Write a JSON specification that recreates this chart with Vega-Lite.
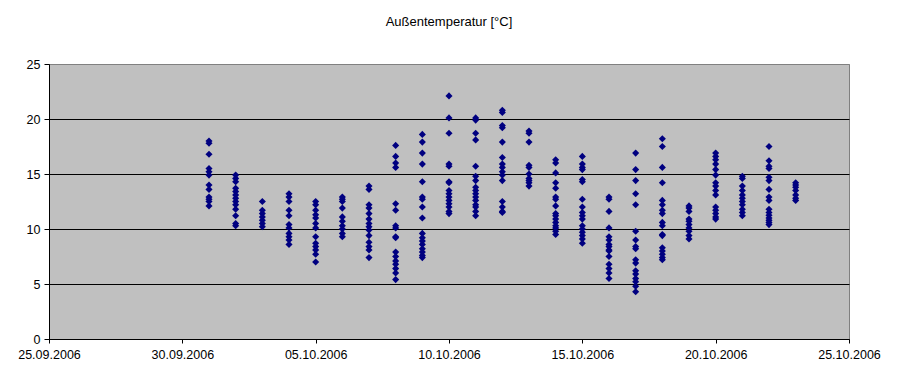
{
  "$schema": "https://vega.github.io/schema/vega-lite/v6.json",
  "width": 800,
  "height": 275,
  "autosize": {"type": "none"},
  "padding": {"left": 49, "top": 64, "right": 49, "bottom": 45},
  "background": "white",
  "title": {"text": "Außentemperatur [°C]", "font": "Liberation Sans", "fontSize": 13, "fontWeight": "normal", "color": "black", "anchor": "middle", "offset": 29},
  "datasets": {
    "temps": [
      {"d": "2006-10-01", "t": 18.0}, {"d": "2006-10-01", "t": 17.8}, {"d": "2006-10-01", "t": 16.8}, {"d": "2006-10-01", "t": 15.5}, {"d": "2006-10-01", "t": 15.2}, {"d": "2006-10-01", "t": 14.9}, {"d": "2006-10-01", "t": 14.0}, {"d": "2006-10-01", "t": 13.6}, {"d": "2006-10-01", "t": 12.9}, {"d": "2006-10-01", "t": 12.7}, {"d": "2006-10-01", "t": 12.5}, {"d": "2006-10-01", "t": 12.1},
      {"d": "2006-10-02", "t": 14.9}, {"d": "2006-10-02", "t": 14.6}, {"d": "2006-10-02", "t": 14.3}, {"d": "2006-10-02", "t": 13.7}, {"d": "2006-10-02", "t": 13.4}, {"d": "2006-10-02", "t": 13.1}, {"d": "2006-10-02", "t": 12.8}, {"d": "2006-10-02", "t": 12.5}, {"d": "2006-10-02", "t": 12.2}, {"d": "2006-10-02", "t": 11.8}, {"d": "2006-10-02", "t": 11.2}, {"d": "2006-10-02", "t": 10.5}, {"d": "2006-10-02", "t": 10.3},
      {"d": "2006-10-03", "t": 12.5}, {"d": "2006-10-03", "t": 11.7}, {"d": "2006-10-03", "t": 11.4}, {"d": "2006-10-03", "t": 11.1}, {"d": "2006-10-03", "t": 10.8}, {"d": "2006-10-03", "t": 10.5}, {"d": "2006-10-03", "t": 10.2},
      {"d": "2006-10-04", "t": 13.2}, {"d": "2006-10-04", "t": 12.9}, {"d": "2006-10-04", "t": 12.5}, {"d": "2006-10-04", "t": 11.7}, {"d": "2006-10-04", "t": 11.2}, {"d": "2006-10-04", "t": 10.4}, {"d": "2006-10-04", "t": 10.1}, {"d": "2006-10-04", "t": 9.6}, {"d": "2006-10-04", "t": 9.3}, {"d": "2006-10-04", "t": 9.0}, {"d": "2006-10-04", "t": 8.6},
      {"d": "2006-10-05", "t": 12.5}, {"d": "2006-10-05", "t": 12.2}, {"d": "2006-10-05", "t": 11.7}, {"d": "2006-10-05", "t": 11.3}, {"d": "2006-10-05", "t": 11.0}, {"d": "2006-10-05", "t": 10.5}, {"d": "2006-10-05", "t": 10.1}, {"d": "2006-10-05", "t": 9.3}, {"d": "2006-10-05", "t": 8.7}, {"d": "2006-10-05", "t": 8.4}, {"d": "2006-10-05", "t": 8.1}, {"d": "2006-10-05", "t": 7.7}, {"d": "2006-10-05", "t": 7.0},
      {"d": "2006-10-06", "t": 12.9}, {"d": "2006-10-06", "t": 12.7}, {"d": "2006-10-06", "t": 12.5}, {"d": "2006-10-06", "t": 11.9}, {"d": "2006-10-06", "t": 11.1}, {"d": "2006-10-06", "t": 10.7}, {"d": "2006-10-06", "t": 10.3}, {"d": "2006-10-06", "t": 10.0}, {"d": "2006-10-06", "t": 9.6}, {"d": "2006-10-06", "t": 9.3},
      {"d": "2006-10-07", "t": 13.9}, {"d": "2006-10-07", "t": 13.6}, {"d": "2006-10-07", "t": 12.2}, {"d": "2006-10-07", "t": 11.9}, {"d": "2006-10-07", "t": 11.4}, {"d": "2006-10-07", "t": 10.9}, {"d": "2006-10-07", "t": 10.5}, {"d": "2006-10-07", "t": 10.2}, {"d": "2006-10-07", "t": 9.9}, {"d": "2006-10-07", "t": 9.4}, {"d": "2006-10-07", "t": 8.8}, {"d": "2006-10-07", "t": 8.4}, {"d": "2006-10-07", "t": 8.1}, {"d": "2006-10-07", "t": 7.4},
      {"d": "2006-10-08", "t": 17.6}, {"d": "2006-10-08", "t": 16.6}, {"d": "2006-10-08", "t": 16.0}, {"d": "2006-10-08", "t": 15.6}, {"d": "2006-10-08", "t": 12.3}, {"d": "2006-10-08", "t": 11.7}, {"d": "2006-10-08", "t": 10.3}, {"d": "2006-10-08", "t": 10.1}, {"d": "2006-10-08", "t": 9.3}, {"d": "2006-10-08", "t": 9.2}, {"d": "2006-10-08", "t": 7.9}, {"d": "2006-10-08", "t": 7.5}, {"d": "2006-10-08", "t": 7.1}, {"d": "2006-10-08", "t": 6.8}, {"d": "2006-10-08", "t": 6.4}, {"d": "2006-10-08", "t": 6.0}, {"d": "2006-10-08", "t": 5.4},
      {"d": "2006-10-09", "t": 18.6}, {"d": "2006-10-09", "t": 17.9}, {"d": "2006-10-09", "t": 16.9}, {"d": "2006-10-09", "t": 15.9}, {"d": "2006-10-09", "t": 14.3}, {"d": "2006-10-09", "t": 12.9}, {"d": "2006-10-09", "t": 12.7}, {"d": "2006-10-09", "t": 12.0}, {"d": "2006-10-09", "t": 11.0}, {"d": "2006-10-09", "t": 9.6}, {"d": "2006-10-09", "t": 9.2}, {"d": "2006-10-09", "t": 8.9}, {"d": "2006-10-09", "t": 8.6}, {"d": "2006-10-09", "t": 8.2}, {"d": "2006-10-09", "t": 7.9}, {"d": "2006-10-09", "t": 7.6}, {"d": "2006-10-09", "t": 7.4},
      {"d": "2006-10-10", "t": 22.1}, {"d": "2006-10-10", "t": 20.1}, {"d": "2006-10-10", "t": 18.7}, {"d": "2006-10-10", "t": 15.9}, {"d": "2006-10-10", "t": 15.7}, {"d": "2006-10-10", "t": 14.3}, {"d": "2006-10-10", "t": 14.2}, {"d": "2006-10-10", "t": 13.5}, {"d": "2006-10-10", "t": 13.2}, {"d": "2006-10-10", "t": 12.9}, {"d": "2006-10-10", "t": 12.6}, {"d": "2006-10-10", "t": 12.3}, {"d": "2006-10-10", "t": 12.0}, {"d": "2006-10-10", "t": 11.6}, {"d": "2006-10-10", "t": 11.4},
      {"d": "2006-10-11", "t": 20.1}, {"d": "2006-10-11", "t": 19.9}, {"d": "2006-10-11", "t": 18.7}, {"d": "2006-10-11", "t": 18.1}, {"d": "2006-10-11", "t": 15.7}, {"d": "2006-10-11", "t": 14.8}, {"d": "2006-10-11", "t": 14.4}, {"d": "2006-10-11", "t": 13.8}, {"d": "2006-10-11", "t": 13.5}, {"d": "2006-10-11", "t": 13.2}, {"d": "2006-10-11", "t": 12.9}, {"d": "2006-10-11", "t": 12.6}, {"d": "2006-10-11", "t": 12.2}, {"d": "2006-10-11", "t": 12.0}, {"d": "2006-10-11", "t": 11.6}, {"d": "2006-10-11", "t": 11.2},
      {"d": "2006-10-12", "t": 20.8}, {"d": "2006-10-12", "t": 20.6}, {"d": "2006-10-12", "t": 19.4}, {"d": "2006-10-12", "t": 19.2}, {"d": "2006-10-12", "t": 17.9}, {"d": "2006-10-12", "t": 16.5}, {"d": "2006-10-12", "t": 15.9}, {"d": "2006-10-12", "t": 15.6}, {"d": "2006-10-12", "t": 15.2}, {"d": "2006-10-12", "t": 14.9}, {"d": "2006-10-12", "t": 14.4}, {"d": "2006-10-12", "t": 12.5}, {"d": "2006-10-12", "t": 12.0}, {"d": "2006-10-12", "t": 11.6}, {"d": "2006-10-12", "t": 11.5},
      {"d": "2006-10-13", "t": 18.9}, {"d": "2006-10-13", "t": 18.7}, {"d": "2006-10-13", "t": 17.9}, {"d": "2006-10-13", "t": 15.8}, {"d": "2006-10-13", "t": 15.6}, {"d": "2006-10-13", "t": 15.0}, {"d": "2006-10-13", "t": 14.6}, {"d": "2006-10-13", "t": 14.4}, {"d": "2006-10-13", "t": 14.2}, {"d": "2006-10-13", "t": 13.9},
      {"d": "2006-10-14", "t": 16.3}, {"d": "2006-10-14", "t": 16.0}, {"d": "2006-10-14", "t": 15.1}, {"d": "2006-10-14", "t": 14.2}, {"d": "2006-10-14", "t": 13.7}, {"d": "2006-10-14", "t": 12.9}, {"d": "2006-10-14", "t": 12.7}, {"d": "2006-10-14", "t": 12.1}, {"d": "2006-10-14", "t": 11.4}, {"d": "2006-10-14", "t": 11.2}, {"d": "2006-10-14", "t": 10.9}, {"d": "2006-10-14", "t": 10.6}, {"d": "2006-10-14", "t": 10.3}, {"d": "2006-10-14", "t": 10.1}, {"d": "2006-10-14", "t": 9.8}, {"d": "2006-10-14", "t": 9.5},
      {"d": "2006-10-15", "t": 16.6}, {"d": "2006-10-15", "t": 15.9}, {"d": "2006-10-15", "t": 15.6}, {"d": "2006-10-15", "t": 15.4}, {"d": "2006-10-15", "t": 14.5}, {"d": "2006-10-15", "t": 14.3}, {"d": "2006-10-15", "t": 12.7}, {"d": "2006-10-15", "t": 12.0}, {"d": "2006-10-15", "t": 11.5}, {"d": "2006-10-15", "t": 11.2}, {"d": "2006-10-15", "t": 10.9}, {"d": "2006-10-15", "t": 10.3}, {"d": "2006-10-15", "t": 10.0}, {"d": "2006-10-15", "t": 9.7}, {"d": "2006-10-15", "t": 9.4}, {"d": "2006-10-15", "t": 9.1}, {"d": "2006-10-15", "t": 8.7},
      {"d": "2006-10-16", "t": 12.9}, {"d": "2006-10-16", "t": 12.7}, {"d": "2006-10-16", "t": 11.6}, {"d": "2006-10-16", "t": 10.1}, {"d": "2006-10-16", "t": 9.3}, {"d": "2006-10-16", "t": 9.0}, {"d": "2006-10-16", "t": 8.6}, {"d": "2006-10-16", "t": 8.4}, {"d": "2006-10-16", "t": 8.1}, {"d": "2006-10-16", "t": 8.0}, {"d": "2006-10-16", "t": 7.5}, {"d": "2006-10-16", "t": 6.8}, {"d": "2006-10-16", "t": 6.4}, {"d": "2006-10-16", "t": 6.0}, {"d": "2006-10-16", "t": 5.5},
      {"d": "2006-10-17", "t": 16.9}, {"d": "2006-10-17", "t": 15.4}, {"d": "2006-10-17", "t": 14.4}, {"d": "2006-10-17", "t": 13.2}, {"d": "2006-10-17", "t": 12.2}, {"d": "2006-10-17", "t": 9.8}, {"d": "2006-10-17", "t": 9.0}, {"d": "2006-10-17", "t": 8.4}, {"d": "2006-10-17", "t": 8.2}, {"d": "2006-10-17", "t": 7.2}, {"d": "2006-10-17", "t": 6.9}, {"d": "2006-10-17", "t": 6.2}, {"d": "2006-10-17", "t": 5.9}, {"d": "2006-10-17", "t": 5.5}, {"d": "2006-10-17", "t": 5.2}, {"d": "2006-10-17", "t": 4.8}, {"d": "2006-10-17", "t": 4.3},
      {"d": "2006-10-18", "t": 18.2}, {"d": "2006-10-18", "t": 17.5}, {"d": "2006-10-18", "t": 15.6}, {"d": "2006-10-18", "t": 14.2}, {"d": "2006-10-18", "t": 12.6}, {"d": "2006-10-18", "t": 12.2}, {"d": "2006-10-18", "t": 11.7}, {"d": "2006-10-18", "t": 11.4}, {"d": "2006-10-18", "t": 10.6}, {"d": "2006-10-18", "t": 10.3}, {"d": "2006-10-18", "t": 9.5}, {"d": "2006-10-18", "t": 9.4}, {"d": "2006-10-18", "t": 8.3}, {"d": "2006-10-18", "t": 8.0}, {"d": "2006-10-18", "t": 7.7}, {"d": "2006-10-18", "t": 7.4}, {"d": "2006-10-18", "t": 7.2},
      {"d": "2006-10-19", "t": 12.1}, {"d": "2006-10-19", "t": 11.9}, {"d": "2006-10-19", "t": 11.6}, {"d": "2006-10-19", "t": 10.9}, {"d": "2006-10-19", "t": 10.7}, {"d": "2006-10-19", "t": 10.4}, {"d": "2006-10-19", "t": 10.1}, {"d": "2006-10-19", "t": 9.8}, {"d": "2006-10-19", "t": 9.4}, {"d": "2006-10-19", "t": 9.1},
      {"d": "2006-10-20", "t": 16.9}, {"d": "2006-10-20", "t": 16.6}, {"d": "2006-10-20", "t": 16.3}, {"d": "2006-10-20", "t": 15.9}, {"d": "2006-10-20", "t": 15.4}, {"d": "2006-10-20", "t": 14.9}, {"d": "2006-10-20", "t": 14.2}, {"d": "2006-10-20", "t": 13.9}, {"d": "2006-10-20", "t": 13.5}, {"d": "2006-10-20", "t": 13.1}, {"d": "2006-10-20", "t": 12.0}, {"d": "2006-10-20", "t": 11.7}, {"d": "2006-10-20", "t": 11.4}, {"d": "2006-10-20", "t": 11.1}, {"d": "2006-10-20", "t": 10.9},
      {"d": "2006-10-21", "t": 14.8}, {"d": "2006-10-21", "t": 14.6}, {"d": "2006-10-21", "t": 13.9}, {"d": "2006-10-21", "t": 13.5}, {"d": "2006-10-21", "t": 13.1}, {"d": "2006-10-21", "t": 12.8}, {"d": "2006-10-21", "t": 12.5}, {"d": "2006-10-21", "t": 12.2}, {"d": "2006-10-21", "t": 11.8}, {"d": "2006-10-21", "t": 11.5}, {"d": "2006-10-21", "t": 11.2},
      {"d": "2006-10-22", "t": 17.5}, {"d": "2006-10-22", "t": 16.2}, {"d": "2006-10-22", "t": 15.7}, {"d": "2006-10-22", "t": 15.5}, {"d": "2006-10-22", "t": 14.7}, {"d": "2006-10-22", "t": 14.4}, {"d": "2006-10-22", "t": 13.6}, {"d": "2006-10-22", "t": 12.9}, {"d": "2006-10-22", "t": 12.6}, {"d": "2006-10-22", "t": 11.8}, {"d": "2006-10-22", "t": 11.5}, {"d": "2006-10-22", "t": 11.25}, {"d": "2006-10-22", "t": 11.0}, {"d": "2006-10-22", "t": 10.8}, {"d": "2006-10-22", "t": 10.6}, {"d": "2006-10-22", "t": 10.4},
      {"d": "2006-10-23", "t": 14.2}, {"d": "2006-10-23", "t": 14.0}, {"d": "2006-10-23", "t": 13.8}, {"d": "2006-10-23", "t": 13.5}, {"d": "2006-10-23", "t": 13.1}, {"d": "2006-10-23", "t": 12.8}, {"d": "2006-10-23", "t": 12.6}
    ]
  },
  "data": {"name": "temps"},
  "mark": {"type": "point", "shape": "diamond", "filled": true, "size": 50, "color": "#000080", "opacity": 1},
  "encoding": {
    "x": {
      "field": "d",
      "type": "temporal",
      "scale": {"type": "utc", "domain": [{"year": 2006, "month": 9, "date": 25, "utc": true}, {"year": 2006, "month": 10, "date": 25, "utc": true}]},
      "axis": {
        "title": null,
        "values": [
          {"year": 2006, "month": 9, "date": 25, "utc": true},
          {"year": 2006, "month": 9, "date": 30, "utc": true},
          {"year": 2006, "month": 10, "date": 5, "utc": true},
          {"year": 2006, "month": 10, "date": 10, "utc": true},
          {"year": 2006, "month": 10, "date": 15, "utc": true},
          {"year": 2006, "month": 10, "date": 20, "utc": true},
          {"year": 2006, "month": 10, "date": 25, "utc": true}
        ],
        "format": "%d.%m.%Y",
        "grid": false,
        "domainColor": "black",
        "tickColor": "black",
        "tickSize": 4,
        "labelFont": "Liberation Sans",
        "labelFontSize": 12.5,
        "labelColor": "black",
        "labelPadding": 5,
        "labelFlush": false,
        "labelOverlap": false
      }
    },
    "y": {
      "field": "t",
      "type": "quantitative",
      "scale": {"domain": [0, 25], "nice": false},
      "axis": {
        "title": null,
        "values": [0, 5, 10, 15, 20, 25],
        "grid": true,
        "gridColor": {"condition": {"test": "datum.value === 25", "value": "#808080"}, "value": "black"},
        "gridOpacity": 1,
        "domainColor": "black",
        "tickColor": "black",
        "tickSize": 5,
        "labelFont": "Liberation Sans",
        "labelFontSize": 12.5,
        "labelColor": "black",
        "labelPadding": 4
      }
    }
  },
  "config": {"view": {"fill": "#C0C0C0", "stroke": "#808080", "strokeWidth": 1}}
}
